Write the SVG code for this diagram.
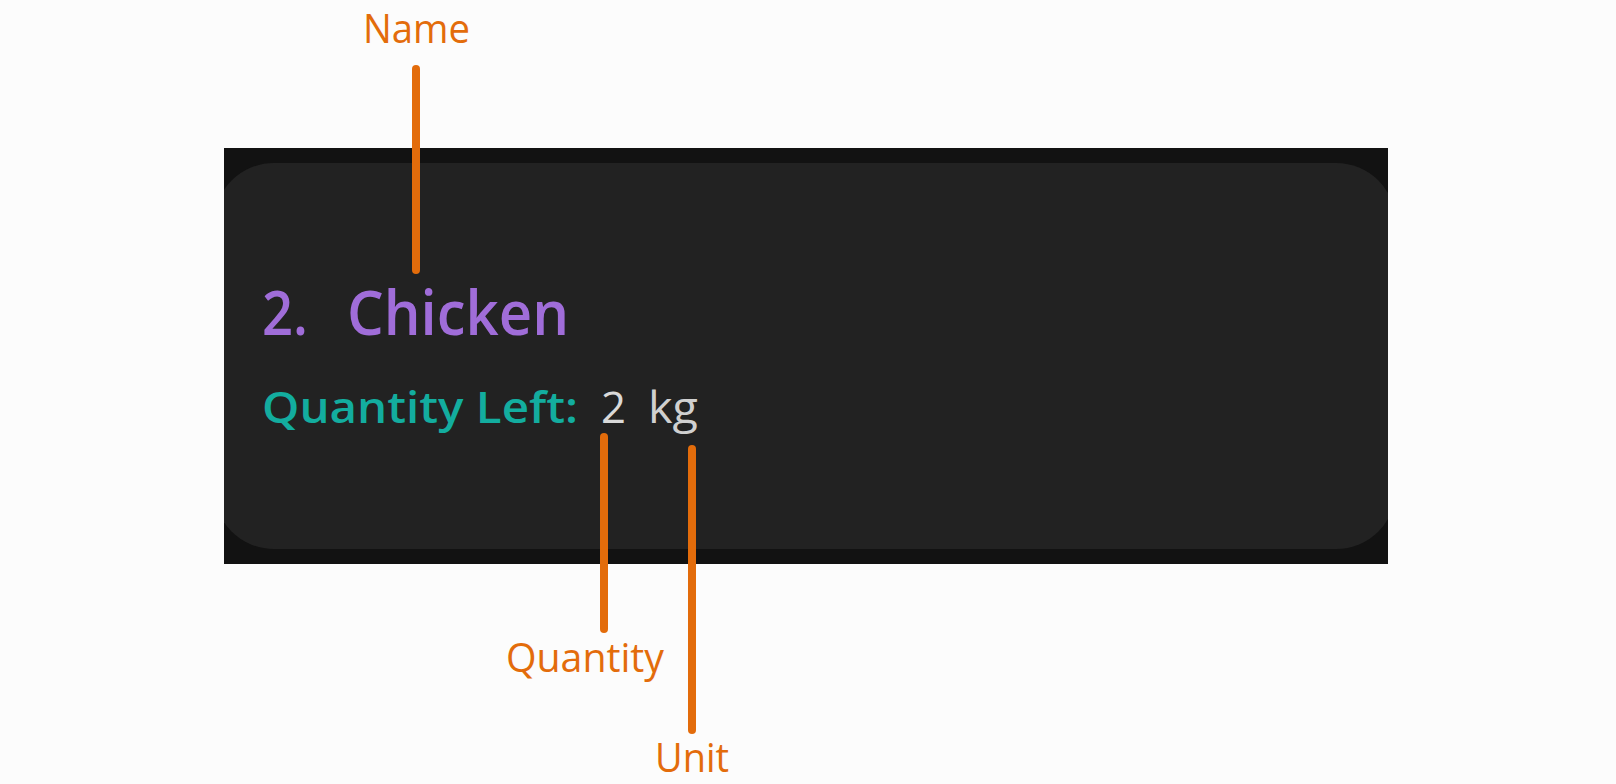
<svg xmlns="http://www.w3.org/2000/svg" width="1616" height="784" viewBox="0 0 1616 784">
<style>
.lbl{font-family:"Open Sans","Noto Sans",sans-serif;font-size:40px;fill:#e36c0b}
.con{stroke:#e36c0b;stroke-width:8;stroke-linecap:round;fill:none}
.card{font-family:"Open Sans","Noto Sans",sans-serif;font-weight:600}
</style>
<defs><clipPath id="clip"><rect x="224" y="148" width="1164" height="416"/></clipPath></defs>
<rect width="1616" height="784" fill="#fcfcfc"/>
<g id="card">
<rect x="224" y="148" width="1164" height="416" fill="#121212"/>
<rect x="214" y="163" width="1182" height="386" rx="60" fill="#222222" clip-path="url(#clip)"/>
<text class="card" y="335" font-size="62" fill="#a06dd9"><tspan x="262" textLength="46" lengthAdjust="spacingAndGlyphs">2.</tspan><tspan x="347" textLength="222" lengthAdjust="spacingAndGlyphs">Chicken</tspan></text>
<text class="card" x="262" y="423" font-size="43" fill="#13ad9f" textLength="316" lengthAdjust="spacingAndGlyphs">Quantity Left:</text>
<text x="601" y="423" font-family="'Open Sans','Noto Sans',sans-serif" font-size="43" fill="#d9d9d9" textLength="25" lengthAdjust="spacingAndGlyphs">2</text>
<text x="648" y="423" font-family="'Open Sans','Noto Sans',sans-serif" font-size="43" fill="#d0d0d0" textLength="50" lengthAdjust="spacingAndGlyphs">kg</text>
</g>
<g id="connectors">
<line class="con" x1="416" y1="69" x2="416" y2="270"/>
<line class="con" x1="604" y1="437" x2="604" y2="629"/>
<line class="con" x1="692" y1="449" x2="692" y2="730"/>
</g>
<g id="label-name"><text class="lbl" x="363" y="43" textLength="107" lengthAdjust="spacingAndGlyphs">Name</text></g>
<g id="label-quantity"><text class="lbl" x="506" y="672" textLength="158" lengthAdjust="spacingAndGlyphs">Quantity</text></g>
<g id="label-unit"><text class="lbl" x="655" y="772" textLength="74" lengthAdjust="spacingAndGlyphs">Unit</text></g>
</svg>
